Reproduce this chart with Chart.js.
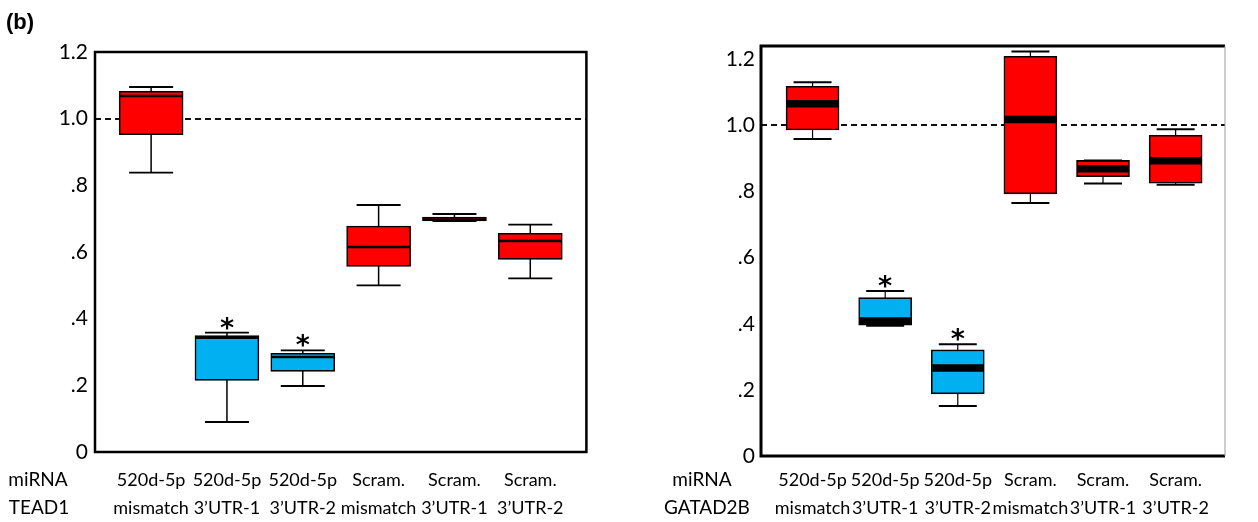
<!DOCTYPE html>
<html>
<head>
<meta charset="utf-8">
<script src="https://cdn.jsdelivr.net/npm/chart.js@4.4.1/dist/chart.umd.min.js"></script>
<style>
  html, body { margin: 0; padding: 0; background: #fff; }
  #wrap { position: relative; width: 1258px; height: 522px; overflow: hidden; }
  canvas { position: absolute; top: 0; }
  #c1 { left: 0; }
  #c2 { left: 640px; }
  #tag { position: absolute; left: 6px; top: 9px; font: bold 22px "Liberation Sans", Arial, sans-serif; }
</style>
</head>
<body>
<div id="wrap">
  <canvas id="c1" width="620" height="522"></canvas>
  <canvas id="c2" width="618" height="522"></canvas>
  <div id="tag">(b)</div>
</div>
<script>
const groups = [1, 2, 3, 4, 5, 6];
const miRNA = ['520d-5p', '520d-5p', '520d-5p', 'Scram.', 'Scram.', 'Scram.'];
const target = ['mismatch', '3’UTR-1', '3’UTR-2', 'mismatch', '3’UTR-1', '3’UTR-2'];
const boxColors = ['#ff0000', '#00b0f0', '#00b0f0', '#ff0000', '#ff0000', '#ff0000'];
const yTicks = [0, 0.2, 0.4, 0.6, 0.8, 1.0, 1.2];
const yTickLabels = ['0', '.2', '.4', '.6', '.8', '1.0', '1.2'];

// TEAD1 panel
const teadMin = [0.838, 0.090, 0.198, 0.500, 0.693, 0.521];
const teadQ1  = [0.952, 0.215, 0.242, 0.557, 0.693, 0.578];
const teadMed = [1.068, 0.343, 0.285, 0.615, 0.697, 0.633];
const teadQ3  = [1.082, 0.349, 0.296, 0.678, 0.705, 0.656];
const teadMax = [1.095, 0.358, 0.305, 0.741, 0.714, 0.682];
const teadSig = [2, 3];

// GATAD2B panel
const gataMin = [0.959, 0.394, 0.151, 0.765, 0.824, 0.820];
const gataQ1  = [0.986, 0.396, 0.188, 0.793, 0.845, 0.825];
const gataMed = [1.065, 0.408, 0.266, 1.018, 0.869, 0.893];
const gataQ3  = [1.118, 0.479, 0.321, 1.209, 0.894, 0.970];
const gataMax = [1.130, 0.499, 0.338, 1.223, 0.894, 0.988];
const gataSig = [2, 3];

Chart.defaults.font.family = 'Lato, "Noto Sans", sans-serif';
Chart.defaults.color = '#000';

// frame, reference line, asterisks and row captions
const boxDecor = {
  id: 'boxDecor',
  beforeDatasetsDraw(chart, args, opts) {
    const { ctx, chartArea: a, scales: { y } } = chart;
    const yy = Math.round(y.getPixelForValue(1.0));
    ctx.save();
    ctx.strokeStyle = '#111';
    ctx.lineWidth = 2;
    ctx.setLineDash([6, 4]);
    ctx.beginPath();
    ctx.moveTo(a.left, yy);
    ctx.lineTo(a.right, yy);
    ctx.stroke();
    ctx.restore();
  },
  afterDraw(chart, args, opts) {
    const { ctx, chartArea: a, scales: { x, y } } = chart;
    ctx.save();
    ctx.strokeStyle = '#000';
    ctx.lineWidth = opts.frameWidth;
    ctx.beginPath();
    ctx.moveTo(a.right, a.top);
    ctx.lineTo(a.left, a.top);
    ctx.lineTo(a.left, a.bottom);
    ctx.lineTo(a.right, a.bottom);
    if (opts.thinRight) {
      ctx.stroke();
      ctx.beginPath();
      ctx.strokeStyle = '#999';
      ctx.lineWidth = 1;
      ctx.moveTo(a.right, a.top);
      ctx.lineTo(a.right, a.bottom);
    } else {
      ctx.closePath();
    }
    ctx.stroke();

    ctx.fillStyle = '#000';
    ctx.textAlign = 'center';
    ctx.textBaseline = 'alphabetic';
    ctx.font = 'bold 27px "DejaVu Sans"';
    opts.sig.forEach(g => {
      const px = x.getPixelForValue(g);
      const py = y.getPixelForValue(opts.max[g - 1]);
      ctx.fillText('*', px, py + 4);
    });

    ctx.font = '19px Lato';
    ctx.textBaseline = 'middle';
    ctx.fillText('miRNA', opts.rowX[0], 480);
    ctx.fillText(opts.rowName, opts.rowX[1], 508);
    ctx.restore();
  }
};

function makePanel(id, d, c) {
  new Chart(document.getElementById(id), {
    type: 'bar',
    data: {
      datasets: [
        {
          type: 'scatter',
          data: groups.map((g, i) => ({ x: g, y: d.max[i] })).concat(groups.map((g, i) => ({ x: g, y: d.min[i] }))),
          pointStyle: 'line',
          pointRadius: c.capW / 2,
          pointHoverRadius: c.capW / 2,
          pointBorderWidth: c.capLine,
          pointBorderColor: '#000',
          order: 0
        },
        {
          type: 'scatter',
          data: groups.map((g, i) => ({ x: g, y: d.med[i] })),
          pointStyle: 'line',
          pointRadius: c.boxW / 2 - 1,
          pointHoverRadius: c.boxW / 2 - 1,
          pointBorderWidth: c.medLine,
          pointBorderColor: '#000',
          order: 1
        },
        {
          type: 'bar',
          data: groups.map((g, i) => ({ x: g, y: [d.q1[i], d.q3[i]] })),
          backgroundColor: boxColors,
          borderColor: '#000',
          borderWidth: 1.6,
          borderSkipped: false,
          barThickness: c.boxW,
          grouped: false,
          order: 2
        },
        {
          type: 'bar',
          data: groups.map((g, i) => ({ x: g, y: [d.min[i], d.max[i]] })),
          backgroundColor: '#000',
          borderWidth: 0,
          inflateAmount: 0,
          barThickness: c.stem,
          grouped: false,
          order: 3
        }
      ]
    },
    options: {
      responsive: false,
      animation: false,
      events: [],
      layout: { padding: c.padding },
      plugins: {
        legend: { display: false },
        tooltip: { enabled: false },
        boxDecor: {
          sig: d.sig, max: d.max, rowName: c.rowName, rowX: c.rowX,
          frameWidth: c.frameWidth, thinRight: c.thinRight
        }
      },
      scales: {
        x: {
          type: 'linear',
          min: c.xMin, max: c.xMax,
          offset: false,
          grid: { display: false, drawTicks: false },
          border: { display: false },
          afterBuildTicks: ax => { ax.ticks = groups.map(v => ({ value: v })); },
          afterFit: ax => { ax.height = c.xH; },
          ticks: {
            autoSkip: false,
            maxRotation: 0,
            padding: c.xPad,
            font: { size: 18, lineHeight: 28 / 18 },
            callback: (v, i) => [miRNA[i], target[i]]
          }
        },
        y: {
          min: 0, max: c.yMax,
          grid: { display: false, drawTicks: false },
          border: { display: false },
          afterBuildTicks: ax => { ax.ticks = yTicks.map(v => ({ value: v })); },
          afterFit: ax => { ax.width = c.yW; },
          ticks: {
            padding: c.yPad,
            font: { size: 21 },
            callback: (v, i) => yTickLabels[i]
          }
        }
      }
    },
    plugins: [boxDecor]
  });
}

makePanel('c1',
  { min: teadMin, q1: teadQ1, med: teadMed, q3: teadQ3, max: teadMax, sig: teadSig },
  { padding: { top: 52, right: 28, left: 0, bottom: 0 }, yW: 95, xH: 70, xPad: 14, yPad: 7,
    xMin: 0.26, xMax: 6.74, yMax: 1.2, boxW: 64, capW: 44, stem: 1.5, capLine: 1.8, medLine: 2.6,
    frameWidth: 2.5, thinRight: false, rowName: 'TEAD1', rowX: [38, 39] });

makePanel('c2',
  { min: gataMin, q1: gataQ1, med: gataMed, q3: gataQ3, max: gataMax, sig: gataSig },
  { padding: { top: 46, right: 1, left: 0, bottom: 0 }, yW: 121, xH: 66, xPad: 10, yPad: 6,
    xMin: 0.29, xMax: 6.68, yMax: 1.24, boxW: 53, capW: 38, stem: 1.2, capLine: 2, medLine: 7.5,
    frameWidth: 3, thinRight: true, rowName: 'GATAD2B', rowX: [62, 67] });
</script>
</body>
</html>
